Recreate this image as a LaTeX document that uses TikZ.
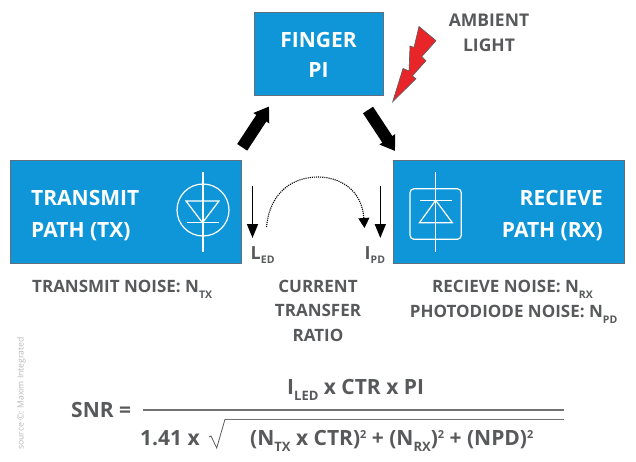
\documentclass[tikz,border=0pt]{standalone}
\usepackage{fontspec}
\setmainfont{Open Sans}[BoldFont={Open Sans Bold}]
\usetikzlibrary{arrows.meta,calc}
\definecolor{boxblue}{HTML}{0F96D8}
\definecolor{boxedge}{HTML}{5F6F7C}
\definecolor{txtgray}{HTML}{58595B}
\definecolor{boltred}{HTML}{E8262A}
\newcommand{\fs}[1]{\fontsize{#1}{#1}\selectfont\bfseries}
\newcommand{\lowered}[2]{\raisebox{-#1pt}{\fontsize{10.5}{10.5}\selectfont #2}}
\newcommand{\raised}[1]{\raisebox{7pt}{\fontsize{11}{11}\selectfont #1}}
\tikzset{
 x=1pt,y=-1pt,
 bluebox/.style={draw=boxedge,line width=1pt,fill=boxblue},
 whitetxt/.style={text=white,inner sep=0pt,anchor=base},
 graytxt/.style={text=txtgray,inner sep=0pt,anchor=base},
 fatarrow/.style={line width=12pt,black,-{Triangle[width=18pt,length=14pt]}},
 thinarrow/.style={line width=1.6pt,black,-{Triangle[width=11pt,length=14pt]}},
 dotarc/.style={line width=1.1pt,black,densely dotted,-{Triangle[width=11pt,length=10pt]}},
 glyph/.style={draw=white,line width=1.2pt},
 rulegray/.style={draw=txtgray!85,line width=1.5pt},
}
\begin{document}
\begin{tikzpicture}
\useasboundingbox (0,0) rectangle (636,462);
% boxes
\path[bluebox] (254,13) rectangle (383,96);
\path[bluebox] (10.5,161) rectangle (241,263);
\path[bluebox] (393.5,161) rectangle (624,263);
% box texts
\node[whitetxt,anchor=base] (fingerA) at (318.5,48) {\fs{21}FINGER};
\node[whitetxt,anchor=base] (fingerB) at (318.5,78) {\fs{21}PI};
\node[whitetxt,anchor=base west] (txA) at (31,206) {\fs{21}TRANSMIT};
\node[whitetxt,anchor=base west] (txB) at (31,237) {\fs{21}PATH (TX)};
\node[whitetxt,anchor=base east] (rxA) at (603,206) {\fs{21}RECIEVE};
\node[whitetxt,anchor=base east] (rxB) at (603,237) {\fs{21}PATH (RX)};
% TX LED glyph
\draw[glyph] (203,210) circle (26);
\draw[glyph] (203,172) -- (203,252);
\draw[glyph] (186,201) -- (219,201) -- (202.5,222.7) -- cycle;
\draw[glyph] (186.5,222.7) -- (219,222.7);
% RX photodiode glyph
\draw[glyph,rounded corners=4pt] (410,188.7) rectangle (461.3,239.3);
\draw[glyph] (435.7,172) -- (435.7,252);
\draw[glyph] (420,200.3) -- (452,200.3);
\draw[glyph] (435.7,200.3) -- (419.5,222.7) -- (452.3,222.7) -- cycle;
% bolt
\fill[boltred,draw=txtgray,line width=.6pt] (392.7,101.7) -- (403,68.5) -- (409,71) -- (410,46) -- (414,47.5) -- (419,26.5) -- (436,40.7) -- (421.7,56.7) -- (426,60.7) -- (412.3,76) -- (416,78.7) -- cycle;
\node[graytxt] (ambA) at (489,27) {\fs{17.5}AMBIENT};
\node[graytxt] (ambB) at (489,51.5) {\fs{17.5}LIGHT};
% fat arrows
\coordinate (upA) at (242.2,147.3);
\coordinate (upB) at (269,106.5);
\coordinate (dnA) at (368,110);
\coordinate (dnB) at (395,151);
\draw[fatarrow] (upA) -- (upB);
\draw[fatarrow] (dnA) -- (dnB);
% current arrows
\coordinate (ledA) at (252.5,186);
\coordinate (ledB) at (252.5,238);
\coordinate (pdA) at (380.3,186);
\coordinate (pdB) at (380.3,238);
\draw[thinarrow] (ledA) -- (ledB);
\draw[thinarrow] (pdA) -- (pdB);
\coordinate (arcA) at (266.5,227);
\coordinate (arcB) at (364.5,228);
\draw[dotarc] (arcA) .. controls (270,190) and (295,177) .. (318,177) .. controls (340,177) and (362,190) .. (arcB);
% current labels
\node[graytxt,anchor=base west] (led) at (250.5,259) {\fs{18}L\lowered{4}{ED}};
\node[graytxt,anchor=base west] (ipd) at (364.5,259) {\fs{18}I\lowered{4}{PD}};
% noise labels
\node[graytxt,anchor=base west] (ntx) at (32,292) {\fs{17}TRANSMIT NOISE: N\lowered{6}{TX}};
\node[graytxt] (crA) at (318,292) {\fs{17}CURRENT};
\node[graytxt] (crB) at (318,316.5) {\fs{17}TRANSFER};
\node[graytxt] (crC) at (318,341) {\fs{17}RATIO};
\node[graytxt,anchor=base east] (nrx) at (593,292) {\fs{17}RECIEVE NOISE: N\lowered{6}{RX}};
\node[graytxt,anchor=base east] (npd) at (617.5,317) {\fs{17}PHOTODIODE NOISE: N\lowered{6}{PD}};
% formula
\node[graytxt,anchor=base west] (snr) at (71,417) {\fs{21}SNR =};
\node[graytxt,anchor=base west] (num) at (287,394) {\fs{21}I\lowered{6}{\fontsize{13}{13}\selectfont LED} x CTR x PI};
\node[graytxt,anchor=base west] (k) at (140,445) {\fs{21}1.41 x};
\node[graytxt,anchor=base west] (den) at (250,445) {\fs{21}(N\lowered{6}{\fontsize{13}{13}\selectfont TX} x CTR)\raised{2} + (N\lowered{6}{\fontsize{13}{13}\selectfont RX})\raised{2} + (NPD)\raised{2}};
\coordinate (r1) at (143,410);
\coordinate (r2) at (564,410);
\coordinate (r3) at (225,419.3);
\coordinate (r4) at (564,419.3);
\draw[rulegray] (r1) -- (r2);
\draw[rulegray] (r3) -- (r4);
\draw[draw=txtgray,line width=.8pt] (209,437) -- (211,436) -- (216.7,448) -- (r3);
% credit
\node[text=black!28,rotate=90,anchor=base west,inner sep=0pt] (src) at (23.5,450) {\fontsize{8.6}{8.6}\selectfont source ©: Maxim Integrated};
\end{tikzpicture}
\end{document}
